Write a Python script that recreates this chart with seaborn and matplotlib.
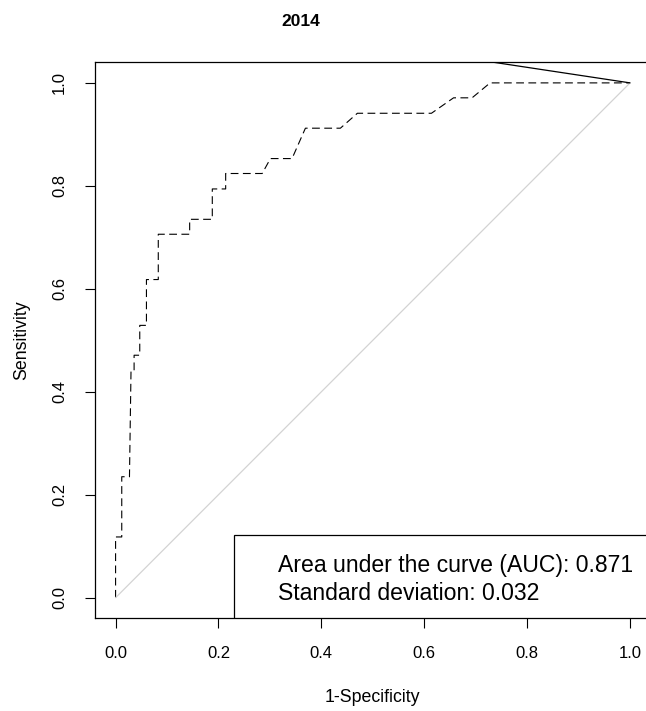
import matplotlib
matplotlib.use("Agg")
import matplotlib.pyplot as plt
import seaborn as sns
import pandas as pd
from matplotlib.patches import Rectangle

# ROC curve vertices (1-specificity, sensitivity)
fpr = [0.0, 0.0, 0.012, 0.012, 0.027, 0.030, 0.036, 0.036, 0.047, 0.047,
       0.060, 0.060, 0.083, 0.083, 0.144, 0.144, 0.188, 0.188, 0.214, 0.214,
       0.285, 0.301, 0.343, 0.369, 0.437, 0.470, 0.614, 0.657, 0.693, 0.728, 1.0]
tpr = [0.0, 0.118, 0.118, 0.235, 0.235, 0.441, 0.441, 0.471, 0.471, 0.529,
       0.529, 0.618, 0.618, 0.706, 0.706, 0.735, 0.735, 0.794, 0.794, 0.824,
       0.824, 0.853, 0.853, 0.912, 0.912, 0.941, 0.941, 0.971, 0.971, 1.0, 1.0]

# chance diagonal and the solid segment leaving the top-right corner
diag_x = [0.0, 1.0]
diag_y = [0.0, 1.0]
solid_x = [0.735, 1.0]
solid_y = [1.04, 1.0]

ticks = [0.0, 0.2, 0.4, 0.6, 0.8, 1.0]
auc_text = "Area under the curve (AUC): 0.871"
sd_text = "Standard deviation: 0.032"

sns.set_theme(style="white")
plt.rcParams["font.family"] = ["Liberation Sans", "DejaVu Sans"]
plt.rcParams["text.color"] = "black"
plt.rcParams["axes.labelcolor"] = "black"
plt.rcParams["xtick.color"] = "black"
plt.rcParams["ytick.color"] = "black"

fig = plt.figure(figsize=(6.46, 7.11), dpi=100)
ax = fig.add_axes([95 / 646, 1 - 618.3 / 711, 555.6 / 646, 556 / 711])

roc_df = pd.DataFrame({"fpr": fpr, "tpr": tpr})
sns.lineplot(data=roc_df, x="fpr", y="tpr", sort=False, estimator=None,
             color="black", linewidth=0.8, linestyle=(0, (7, 4)), ax=ax)
sns.lineplot(x=diag_x, y=diag_y, sort=False, estimator=None,
             color="#d3d3d3", linewidth=0.9, ax=ax)
sns.lineplot(x=solid_x, y=solid_y, sort=False, estimator=None,
             color="black", linewidth=0.9, ax=ax)

ax.set_xlim(-0.04, 1.04)
ax.set_ylim(-0.04, 1.04)
ax.set_xticks(ticks)
ax.set_yticks(ticks)
ax.set_xticklabels([f"{t:.1f}" for t in ticks])
ax.set_yticklabels([f"{t:.1f}" for t in ticks], rotation=90, va="center")
ax.tick_params(axis="both", direction="out", length=7, width=0.8,
               color="black", labelcolor="black", labelsize=12, pad=13,
               bottom=True, left=True)

for sp in ax.spines.values():
    sp.set_color("black")
    sp.set_linewidth(0.9)

# legend-like box with the AUC summary
ax.add_patch(Rectangle((0.231, -0.06), 1.0, 0.182, facecolor="none",
                       edgecolor="black", linewidth=0.9, clip_on=True))
ax.text(0.315, 0.0616, auc_text, fontsize=16.6, va="center", ha="left")
ax.text(0.315, 0.009, sd_text, fontsize=16.6, va="center", ha="left")

ax.set_xlabel("1-Specificity", fontsize=12.8, labelpad=20)
ax.set_ylabel("Sensitivity", fontsize=12.8, labelpad=16)

fig.text(301 / 646, 1 - 22 / 711, "2014", fontsize=12.5, fontweight="bold",
         ha="center", va="center")

fig.savefig("out.png", dpi=100)
